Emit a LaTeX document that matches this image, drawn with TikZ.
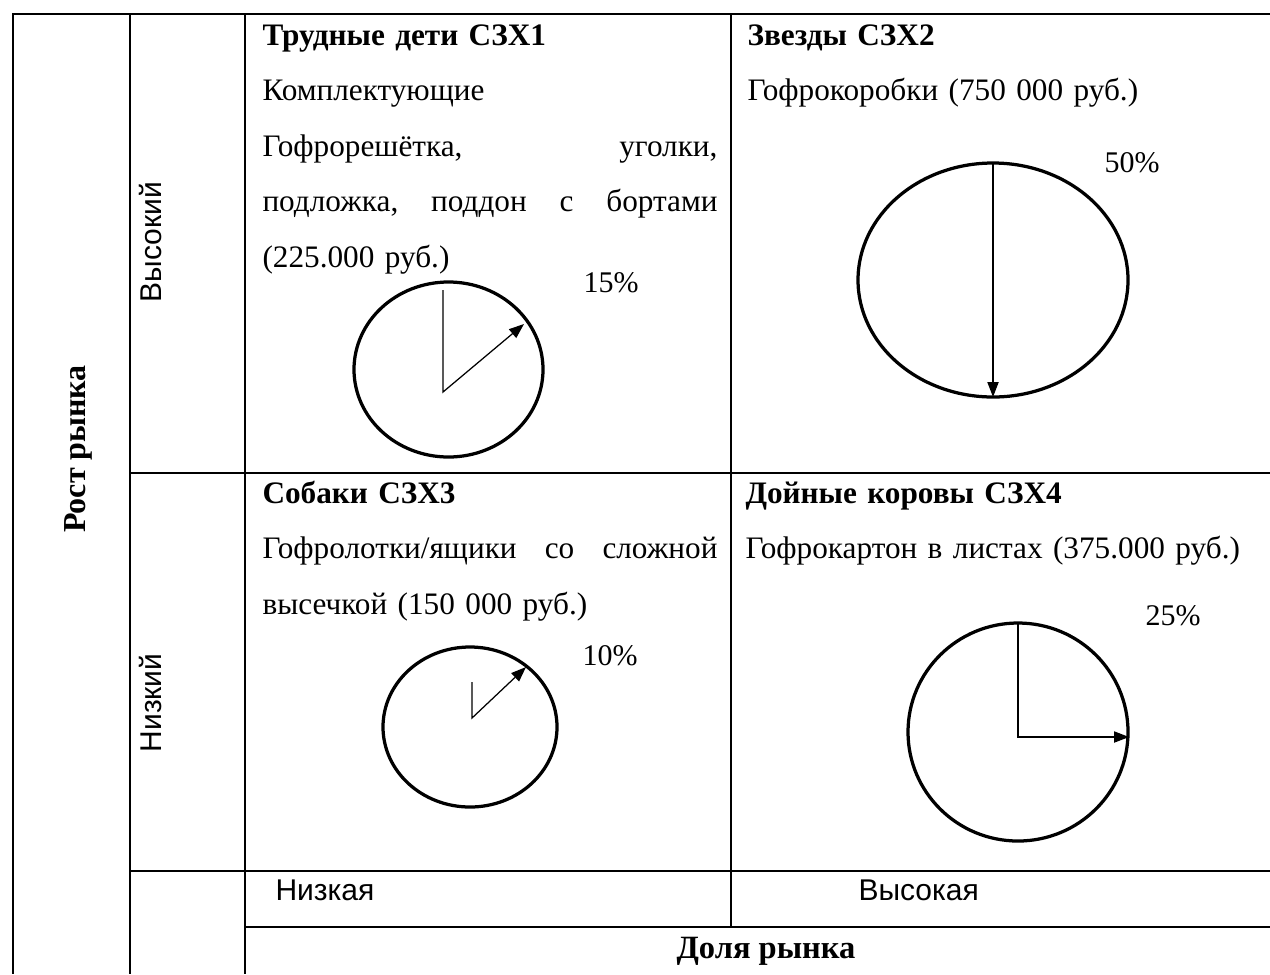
\documentclass[tikz,border=0pt]{standalone}
\usepackage{fontspec}
\setmainfont{Liberation Serif}
\setsansfont{Liberation Sans}
\usepackage{tikz}
\usetikzlibrary{arrows.meta, positioning}

\begin{document}
\begin{tikzpicture}[x=0.4pt, y=-0.4pt,
  tableline/.style={line width=0.8pt},
  celltext/.style={anchor=base west, inner sep=0pt, align=left, font=\fontsize{12.5}{22.2}\selectfont},
  sharecircle/.style={line width=1.3pt},
  radiusarrow/.style={line width=0.5pt, -{Triangle[length=6pt, width=4.5pt]}},
  pct/.style={anchor=base west, inner sep=0pt, font=\fontsize{12}{14}\selectfont},
  sidelabel/.style={inner sep=0pt, rotate=90, font=\sffamily\fontsize{12}{14}\selectfont}]
  \useasboundingbox (0,0) rectangle (1270,974);

  % table grid
  \draw[tableline] (1270,14) -- (13,14) -- (13,974);
  \draw[tableline] (130,14) -- (130,974);
  \draw[tableline] (245,14) -- (245,974);
  \draw[tableline] (731,14) -- (731,927);
  \draw[tableline] (130,473) -- (1270,473);
  \draw[tableline] (130,871) -- (1270,871);
  \draw[tableline] (245,927) -- (1270,927);

  % axis labels
  \node[inner sep=0pt, rotate=90, font=\bfseries\fontsize{12.8}{14}\selectfont] (growth) at (78,449) {Рост рынка};
  \node[sidelabel] (high) at (151,242) {Высокий};
  \node[sidelabel] (low) at (151,703) {Низкий};
  \node[anchor=base west, inner sep=0pt, font=\sffamily\fontsize{12}{14}\selectfont] (lowshare) at (275,900) {Низкая};
  \node[anchor=base west, inner sep=0pt, font=\sffamily\fontsize{12}{14}\selectfont] (highshare) at (858,900) {Высокая};
  \node[anchor=base, inner sep=0pt, font=\bfseries\fontsize{13}{14}\selectfont] (share) at (766,958) {Доля рынка};

  % quadrants
  \node[celltext, text width=182pt] (problem) at (262,45) {\textbf{Трудные дети СЗХ1}\\
    Комплектующие\\
    Гофрорешётка,\hfill уголки,\\
    подложка,\hfill поддон\hfill с\hfill бортами\\
    (225.000 руб.)};
  \node[celltext, text width=205pt] (stars) at (747,45) {\textbf{Звезды СЗХ2}\\
    Гофрокоробки (750 000 руб.)};
  \node[celltext, text width=182pt] (dogs) at (262,503) {\textbf{Собаки СЗХ3}\\
    Гофролотки/ящики\hfill со\hfill сложной\\
    высечкой (150 000 руб.)};
  \node[celltext, text width=205pt] (cows) at (745,503) {\textbf{Дойные коровы СЗХ4}\\
    Гофрокартон в листах (375.000 руб.)};

  % share circles
  \draw[sharecircle] (448.5,369.5) ellipse [x radius=94.5, y radius=87.5];
  \draw[radiusarrow] (443,290) -- (443,392) -- (524,324);
  \node[pct] (p15) at (583,292) {15\%};

  \draw[sharecircle] (993,280) ellipse [x radius=135, y radius=117];
  \draw[radiusarrow] (993,163) -- (993,397);
  \node[pct] (p50) at (1104,172) {50\%};

  \draw[sharecircle] (470,727) ellipse [x radius=87, y radius=80];
  \draw[radiusarrow] (472,682) -- (472,718) -- (526,667);
  \node[pct] (p10) at (582,665) {10\%};

  \draw[sharecircle] (1018,732) ellipse [x radius=110, y radius=109];
  \draw[radiusarrow] (1018,623) -- (1018,737) -- (1129,737);
  \node[pct] (p25) at (1145,625) {25\%};
\end{tikzpicture}
\end{document}
